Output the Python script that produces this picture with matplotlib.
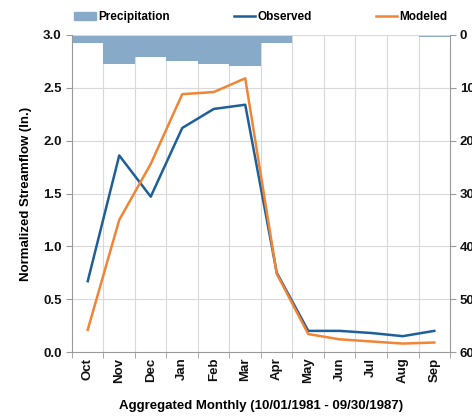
import matplotlib.pyplot as plt
import numpy as np
from matplotlib.patches import Patch
from matplotlib.lines import Line2D

plt.rcParams['font.family'] = ['Liberation Sans', 'DejaVu Sans']
plt.rcParams['font.weight'] = 'bold'

months = ["Oct", "Nov", "Dec", "Jan", "Feb", "Mar", "Apr", "May", "Jun", "Jul", "Aug", "Sep"]
observed = [0.67, 1.86, 1.47, 2.12, 2.30, 2.34, 0.75, 0.20, 0.20, 0.18, 0.15, 0.20]
modeled = [0.21, 1.25, 1.78, 2.44, 2.46, 2.59, 0.74, 0.17, 0.12, 0.10, 0.08, 0.09]
precip = [1.45, 5.4, 4.1, 4.9, 5.4, 5.9, 1.6, 0.2, 0.0, 0.0, 0.0, 0.45]

blue = "#1F5F99"
orange = "#F08536"
bar_col = "#86AAC8"
fs = 9.5

fig = plt.figure(figsize=(4.72, 4.16), dpi=100)
ax = fig.add_axes([0.1525, 0.1538, 0.8009, 0.7621])
ax2 = ax.twinx()
ax.set_zorder(ax2.get_zorder() + 1)
ax.patch.set_visible(False)

x = np.arange(len(months))
ax2.bar(x, precip, width=1.0, color=bar_col, edgecolor="none", zorder=1)
ax2.set_ylim(60, 0)
ax2.set_yticks(range(0, 61, 10))

ax.plot(x, observed, color=blue, lw=1.8)
ax.plot(x, modeled, color=orange, lw=1.8)
ax.set_xlim(-0.5, 11.5)
ax.set_ylim(0, 3.0)
ax.set_yticks(np.arange(0, 3.01, 0.5))
ax.set_yticklabels([f"{v:.1f}" for v in np.arange(0, 3.01, 0.5)])
ax.set_xticks(x)
ax.set_xticklabels(months, rotation=90)

# gridlines at category boundaries and value ticks
for b in np.arange(0.5, 11.5, 1.0):
    ax2.axvline(b, color="#D9D9D9", lw=0.8, zorder=0)
for v in np.arange(0.5, 3.01, 0.5):
    ax.axhline(v, color="#D9D9D9", lw=0.8, zorder=0)

for a in (ax, ax2):
    for s in a.spines.values():
        s.set_visible(False)
ax.spines['left'].set_visible(True)
ax.spines['left'].set_color("#9A9A9A")
ax.spines['bottom'].set_visible(True)
ax.spines['bottom'].set_color("#9A9A9A")
ax2.spines['right'].set_visible(True)
ax2.spines['right'].set_color("#9A9A9A")

ax.tick_params(axis='both', colors="#9A9A9A", labelcolor="#111111", labelsize=fs, length=4)
ax.tick_params(axis='x', length=0, pad=4)
ax2.tick_params(axis='y', colors="#9A9A9A", labelcolor="#111111", labelsize=fs, length=4, pad=3)
ax.set_xticks(np.arange(-0.5, 12, 1.0), minor=True)
ax.tick_params(axis='x', which='minor', length=4, colors="#9A9A9A")

ax.set_ylabel("Normalized Streamflow (In.)", fontsize=fs, fontweight='bold', labelpad=8)
ax.set_xlabel("Aggregated Monthly (10/01/1981 - 09/30/1987)", fontsize=fs, fontweight='bold', labelpad=12)

handles = [Patch(color=bar_col, label="Precipitation"),
           Line2D([], [], color=blue, lw=1.8, label="Observed"),
           Line2D([], [], color=orange, lw=1.8, label="Modeled")]
ax.legend(handles=handles, loc='lower left', bbox_to_anchor=(0.0, 1.03, 1.0, 0.06), ncol=3,
          mode='expand', frameon=False, fontsize=8.5, handlelength=1.8, handletextpad=0.2,
          borderaxespad=0.0, borderpad=0.2)

fig.savefig("out.png", dpi=100)
